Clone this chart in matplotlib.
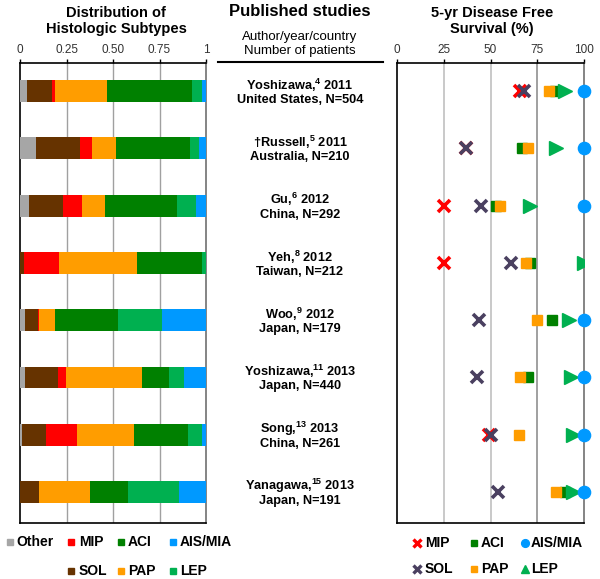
import numpy as np
import matplotlib
matplotlib.use("Agg")
import matplotlib.pyplot as plt
from matplotlib.lines import Line2D
import matplotlib.transforms as mtrans

plt.rcParams['font.family'] = ['Liberation Sans', 'DejaVu Sans']
plt.rcParams['mathtext.fontset'] = 'custom'
plt.rcParams['mathtext.rm'] = 'Liberation Sans'
plt.rcParams['mathtext.bf'] = 'Liberation Sans:bold'

# ---------------- data ----------------
studies_line1 = [r"Yoshizawa,$^\mathbf{4}$ 2011", r"†Russell,$^\mathbf{5}$ 2011", r"Gu,$^\mathbf{6}$ 2012",
                 r"Yeh,$^\mathbf{8}$ 2012", r"Woo,$^\mathbf{9}$ 2012", r"Yoshizawa,$^\mathbf{11}$ 2013",
                 r"Song,$^\mathbf{13}$ 2013", r"Yanagawa,$^\mathbf{15}$ 2013"]
studies_line2 = ["United States, N=504", "Australia, N=210", "China, N=292", "Taiwan, N=212",
                 "Japan, N=179", "Japan, N=440", "China, N=261", "Japan, N=191"]

# distribution of histologic subtypes (fractions)
dist_other = [0.040, 0.086, 0.050, 0.000, 0.029, 0.025, 0.011, 0.000]
dist_sol   = [0.130, 0.234, 0.180, 0.023, 0.066, 0.180, 0.127, 0.104]
dist_mip   = [0.020, 0.067, 0.103, 0.187, 0.009, 0.041, 0.166, 0.000]
dist_pap   = [0.280, 0.127, 0.124, 0.420, 0.085, 0.410, 0.309, 0.270]
dist_aci   = [0.455, 0.401, 0.387, 0.348, 0.336, 0.143, 0.292, 0.209]
dist_lep   = [0.055, 0.047, 0.104, 0.022, 0.238, 0.082, 0.073, 0.271]
dist_ais   = [0.020, 0.038, 0.052, 0.000, 0.237, 0.119, 0.022, 0.146]

# 5-yr disease free survival (%)
dfs_mip = [66, 37, 25, 25, np.nan, np.nan, 49, np.nan]
dfs_sol = [68, 37, 45, 61, 44, 43, 50, 54]
dfs_aci = [84.5, 67, 53, 71, 83, 70, np.nan, 90]
dfs_pap = [81.5, 70, 55, 69, 75, 66, 65, 85]
dfs_lep = [90, 85, 71, 100, 92, 93, 94, 94]
dfs_ais = [100, 100, 100, np.nan, 100, 100, 100, 100]

dist_ticks = [0, 0.25, 0.5, 0.75, 1]
dist_ticklabels = ["0", "0.25", "0.50", "0.75", "1"]
dfs_ticks = [0, 25, 50, 75, 100]

# ---------------- styles ----------------
C_OTHER = "#a6a6a6"
C_SOL = "#663300"
C_MIP = "#ff0000"
C_PAP = "#ff9d00"
C_ACI = "#008000"
C_LEP = "#00b050"
C_AIS = "#0099ff"
C_SOLX = "#4a4060"

W, H = 600, 579
fig = plt.figure(figsize=(W / 100, H / 100), dpi=100)

def fx(px):
    return px / W

def fy(py):
    return 1 - py / H

axL = fig.add_axes([fx(20), fy(523), fx(206) - fx(20), fy(63) - fy(523)])
axR = fig.add_axes([fx(397), fy(523), fx(584) - fx(397), fy(63) - fy(523)])

n = len(studies_line2)
ypos = np.arange(n)

# ---- left panel: stacked bars ----
segments = [(dist_other, C_OTHER), (dist_sol, C_SOL), (dist_mip, C_MIP), (dist_pap, C_PAP),
            (dist_aci, C_ACI), (dist_lep, C_LEP), (dist_ais, C_AIS)]
left = np.zeros(n)
for vals, col in segments:
    v = np.array(vals)
    axL.barh(ypos, v, left=left, height=0.38, color=col, edgecolor='none', zorder=3)
    left += v

for xv in [0.25, 0.5, 0.75]:
    axL.axvline(xv, color="#a0a0a0", lw=1.0, zorder=1)
axL.set_xlim(0, 1)
axL.set_ylim(n - 0.46, -0.49)
axL.xaxis.tick_top()
axL.set_xticks(dist_ticks)
axL.set_xticklabels(dist_ticklabels)
axL.set_yticks([])
for s in ['top', 'bottom', 'left']:
    axL.spines[s].set_color('black')
    axL.spines[s].set_linewidth(1.2)
axL.spines['right'].set_color('#707070')
axL.spines['right'].set_linewidth(1.2)
axL.tick_params(axis='x', length=3, width=1, pad=2, labelsize=8.5, colors='black', labelcolor='#333333')

# ---- right panel: DFS markers ----
for xv, c in [(25, "#c0c0c0"), (50, "#c0c0c0"), (75, "#909090")]:
    axR.axvline(xv, color=c, lw=1.2, zorder=1)
axR.plot(dfs_aci, ypos, 's', color=C_ACI, ms=7.3, zorder=3, linestyle='none')
axR.plot(dfs_pap, ypos, 's', color=C_PAP, ms=7.3, zorder=4, linestyle='none')
axR.plot(dfs_lep, ypos, '>', color=C_LEP, ms=10, zorder=5, linestyle='none')
axR.plot(dfs_mip, ypos, 'x', color=C_MIP, ms=9, mew=2.6, zorder=6, linestyle='none')
axR.plot(dfs_sol, ypos, 'x', color=C_SOLX, ms=9, mew=2.6, zorder=7, linestyle='none')
axR.plot(dfs_ais, ypos, 'o', color=C_AIS, ms=8.8, zorder=8, linestyle='none', clip_on=False)
axR.set_xlim(0, 100)
axR.set_ylim(n - 0.46, -0.49)
axR.xaxis.tick_top()
axR.set_xticks(dfs_ticks)
axR.set_yticks([])
for s in ['top', 'bottom', 'left']:
    axR.spines[s].set_color('black')
    axR.spines[s].set_linewidth(1.2)
axR.spines['right'].set_color('#707070')
axR.spines['right'].set_linewidth(1.2)
axR.tick_params(axis='x', length=3, width=1, pad=2, labelsize=8.5, colors='black', labelcolor='#333333')

# ---- titles ----
fig.text(fx(116), fy(21), "Distribution of\nHistologic Subtypes", ha='center', va='center',
         fontsize=10.5, fontweight='bold', linespacing=1.15)
fig.text(fx(492), fy(21), "5-yr Disease Free\nSurvival (%)", ha='center', va='center',
         fontsize=10.5, fontweight='bold', linespacing=1.15)
fig.text(fx(300), fy(12), "Published studies", ha='center', va='center', fontsize=12, fontweight='bold')
fig.text(fx(300), fy(44), "Author/year/country\nNumber of patients", ha='center', va='center',
         fontsize=9.5, linespacing=1.2)
fig.add_artist(Line2D([fx(218), fx(383)], [fy(62), fy(62)], color='black', lw=1.5))

# ---- study labels (y from the left axes data coordinates) ----
trans = mtrans.blended_transform_factory(fig.transFigure, axL.transData)
off1 = mtrans.offset_copy(trans, fig=fig, y=(7.5 - 1.5) * 0.72, units='points')
off2 = mtrans.offset_copy(trans, fig=fig, y=(-7.5 - 1.5) * 0.72, units='points')
for i in range(n):
    axL.text(fx(300), i, studies_line1[i], transform=off1, ha='center', va='center',
             fontsize=9.2, fontweight='bold', clip_on=False)
    axL.text(fx(300), i, studies_line2[i], transform=off2, ha='center', va='center',
             fontsize=9.2, fontweight='bold', clip_on=False)

# ---- legends ----
def legend_item(mx, my, tx, label, color, marker, ms, mew=1.0):
    fig.add_artist(Line2D([fx(mx)], [fy(my)], marker=marker, color=color, ms=ms, mew=mew,
                          linestyle='none'))
    fig.text(fx(tx), fy(my), label, ha='left', va='center', fontsize=10, fontweight='bold')

legend_item(10, 542, 16, "Other", C_OTHER, 's', 4.3)
legend_item(71, 542, 79, "MIP", C_MIP, 's', 4.3)
legend_item(121, 542, 128, "ACI", C_ACI, 's', 4.3)
legend_item(173, 542, 180, "AIS/MIA", C_AIS, 's', 4.3)
legend_item(71, 571, 79, "SOL", C_SOL, 's', 4.3)
legend_item(121, 571, 128, "PAP", C_PAP, 's', 4.3)
legend_item(173, 571, 180, "LEP", C_LEP, 's', 4.3)

legend_item(417, 543, 425, "MIP", C_MIP, 'x', 5.2, 2.4)
legend_item(474, 543, 481, "ACI", C_ACI, 's', 5.0)
legend_item(525, 543, 531, "AIS/MIA", C_AIS, 'o', 5.6)
legend_item(417, 569, 425, "SOL", C_SOLX, 'x', 5.2, 2.4)
legend_item(474, 569, 481, "PAP", C_PAP, 's', 5.0)
legend_item(525, 569, 531, "LEP", C_LEP, '^', 5.8)

fig.savefig("out.png", dpi=100)
